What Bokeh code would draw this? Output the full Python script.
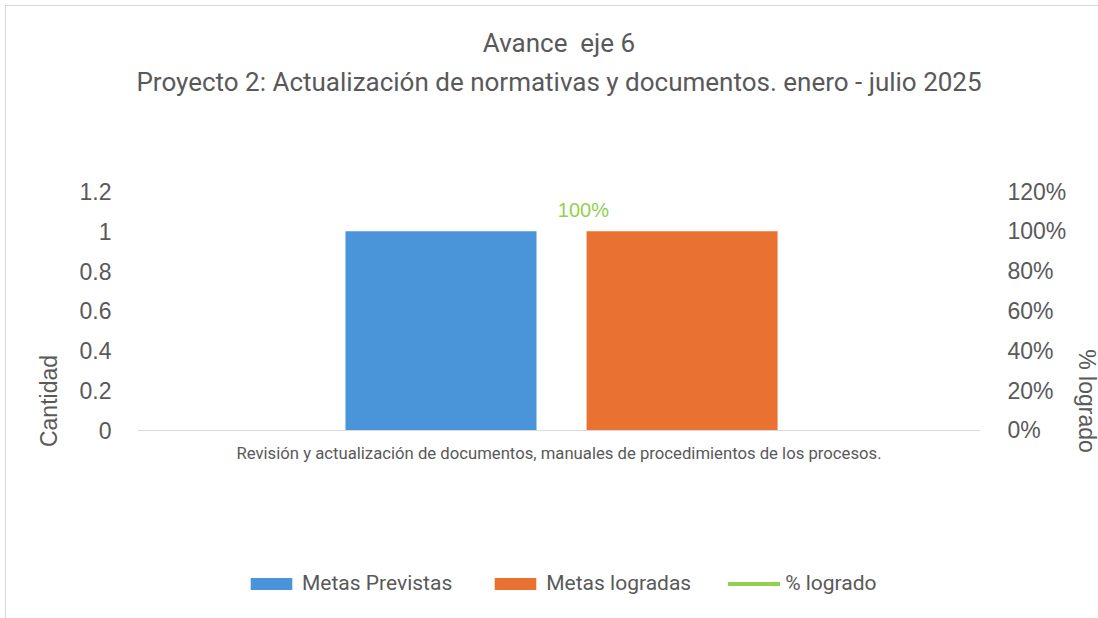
from bokeh.plotting import figure
from bokeh.models import (FactorRange, Range1d, LinearAxis, FixedTicker, Legend, LegendItem,
                          Title, ColumnDataSource, Span)
from bokeh.transform import dodge
from bokeh.embed import file_html
from bokeh.resources import INLINE
from bokeh.core.properties import value

# ---- data ----
categories = ["Revisión y actualización de documentos, manuales de procedimientos de los procesos."]
metas_previstas = [1]
metas_logradas = [1]
pct_logrado = [1.0]
series_names = ["Metas Previstas", "Metas logradas", "% logrado"]
left_ticks = [0, 0.2, 0.4, 0.6, 0.8, 1, 1.2]
left_tick_labels = ["0", "0.2", "0.4", "0.6", "0.8", "1", "1.2"]
right_ticks = [0, 0.2, 0.4, 0.6, 0.8, 1, 1.2]
right_tick_labels = ["0%", "20%", "40%", "60%", "80%", "100%", "120%"]
title_line1 = "Avance \u00a0eje 6"
title_line2 = "Proyecto 2: Actualización de normativas y documentos. enero - julio 2025"

BLUE = "#4A94D9"
ORANGE = "#E97132"
GREEN = "#92D050"
GRAY = "#595959"

src = ColumnDataSource(dict(
    cat=categories, prev=metas_previstas, logr=metas_logradas, pct=pct_logrado,
    pct_lbl=[f"{v:.0%}" for v in pct_logrado], zero=[0] * len(categories),
))

# the frame extends below the value axis to hold the category label and the legend
Y_LOW = -0.9038
p = figure(x_range=FactorRange(*categories, range_padding=0), y_range=Range1d(Y_LOW, 1.2),
           frame_width=843, frame_height=419, output_backend="svg", toolbar_location=None,
           min_border_left=131, min_border_right=118, min_border_top=185, min_border_bottom=8,
           outline_line_color=None)
p.styles = {"margin-left": "5px", "margin-top": "5px",
            "border-left": "1px solid #D9D9D9", "border-top": "1px solid #D9D9D9"}

p.extra_y_ranges = {"pct": Range1d(Y_LOW, 1.2)}

r1 = p.vbar(x=dodge("cat", -0.14, range=p.x_range), top="prev", bottom=0, width=0.2266,
            source=src, fill_color=BLUE, line_color=None)
r2 = p.vbar(x=dodge("cat", 0.146, range=p.x_range), top="logr", bottom=0, width=0.2266,
            source=src, fill_color=ORANGE, line_color=None)
r3 = p.line(x="cat", y="pct", source=src, y_range_name="pct", line_color=GREEN, line_width=4,
            line_cap="round")
p.text(x=dodge("cat", 0.029, range=p.x_range), y="pct", text="pct_lbl", source=src,
       y_range_name="pct", text_align="center", text_baseline="middle", y_offset=-21,
       text_color=GREEN, text_font_size="20px", text_font=value("Liberation Sans"))

# category axis: baseline and category label
p.add_layout(Span(location=0, dimension="width", line_color="#D9D9D9", line_width=1))
p.text(x="cat", y="zero", text="cat", source=src, text_align="center", text_baseline="top",
       y_offset=14, text_color=GRAY, text_font_size="16.7px", text_font=value("Roboto"))

p.grid.visible = False
p.xaxis.visible = False

# left axis
ya = p.yaxis[0]
ya.ticker = FixedTicker(ticks=left_ticks)
ya.major_label_overrides = {t: l for t, l in zip(left_ticks, left_tick_labels)}
ya.axis_line_color = None
ya.major_tick_line_color = None
ya.minor_tick_line_color = None
ya.major_label_text_font = "Liberation Sans"
ya.major_label_text_font_size = "23px"
ya.major_label_text_color = GRAY
ya.major_label_standoff = 20
ya.axis_label = "Cantidad"
ya.axis_label_text_font = "Liberation Sans"
ya.axis_label_text_font_size = "23px"
ya.axis_label_text_font_style = "normal"
ya.axis_label_text_color = GRAY
ya.axis_label_standoff = 15

# right axis
ra = LinearAxis(y_range_name="pct", ticker=FixedTicker(ticks=right_ticks))
ra.major_label_overrides = {t: l for t, l in zip(right_ticks, right_tick_labels)}
ra.axis_line_color = None
ra.major_tick_line_color = None
ra.minor_tick_line_color = None
ra.major_label_text_font = "Liberation Sans"
ra.major_label_text_font_size = "23px"
ra.major_label_text_color = GRAY
ra.major_label_standoff = 21
ra.axis_label = "% logrado"
ra.axis_label_orientation = "vertical"
ra.axis_label_text_font = "Liberation Sans"
ra.axis_label_text_font_size = "23px"
ra.axis_label_text_font_style = "normal"
ra.axis_label_text_color = GRAY
ra.axis_label_standoff = 5
p.add_layout(ra, "right")

# titles (first added = closest to the plot)
spacer = Title(text=" ", text_font_size="70px")
t2 = Title(text=title_line2, align="center", text_font="Roboto", text_font_size="26px",
           text_font_style="normal", text_color=GRAY)
t1 = Title(text=title_line1, align="center", text_font="Roboto", text_font_size="26px",
           text_font_style="normal", text_color=GRAY, standoff=4)
p.add_layout(spacer, "above")
p.add_layout(t2, "above")
p.add_layout(t1, "above")

legend = Legend(items=[LegendItem(label=series_names[0], renderers=[r1]),
                       LegendItem(label=series_names[1], renderers=[r2]),
                       LegendItem(label=series_names[2], renderers=[r3])],
                orientation="horizontal", location=(108, 15),
                label_text_font="Roboto", label_text_font_size="21px",
                label_text_color=GRAY, glyph_width=52, glyph_height=15, spacing=37,
                label_standoff=5, padding=0, margin=0, border_line_color=None,
                background_fill_alpha=0)
p.add_layout(legend, "center")

open("out.html", "w").write(file_html(p, INLINE))
